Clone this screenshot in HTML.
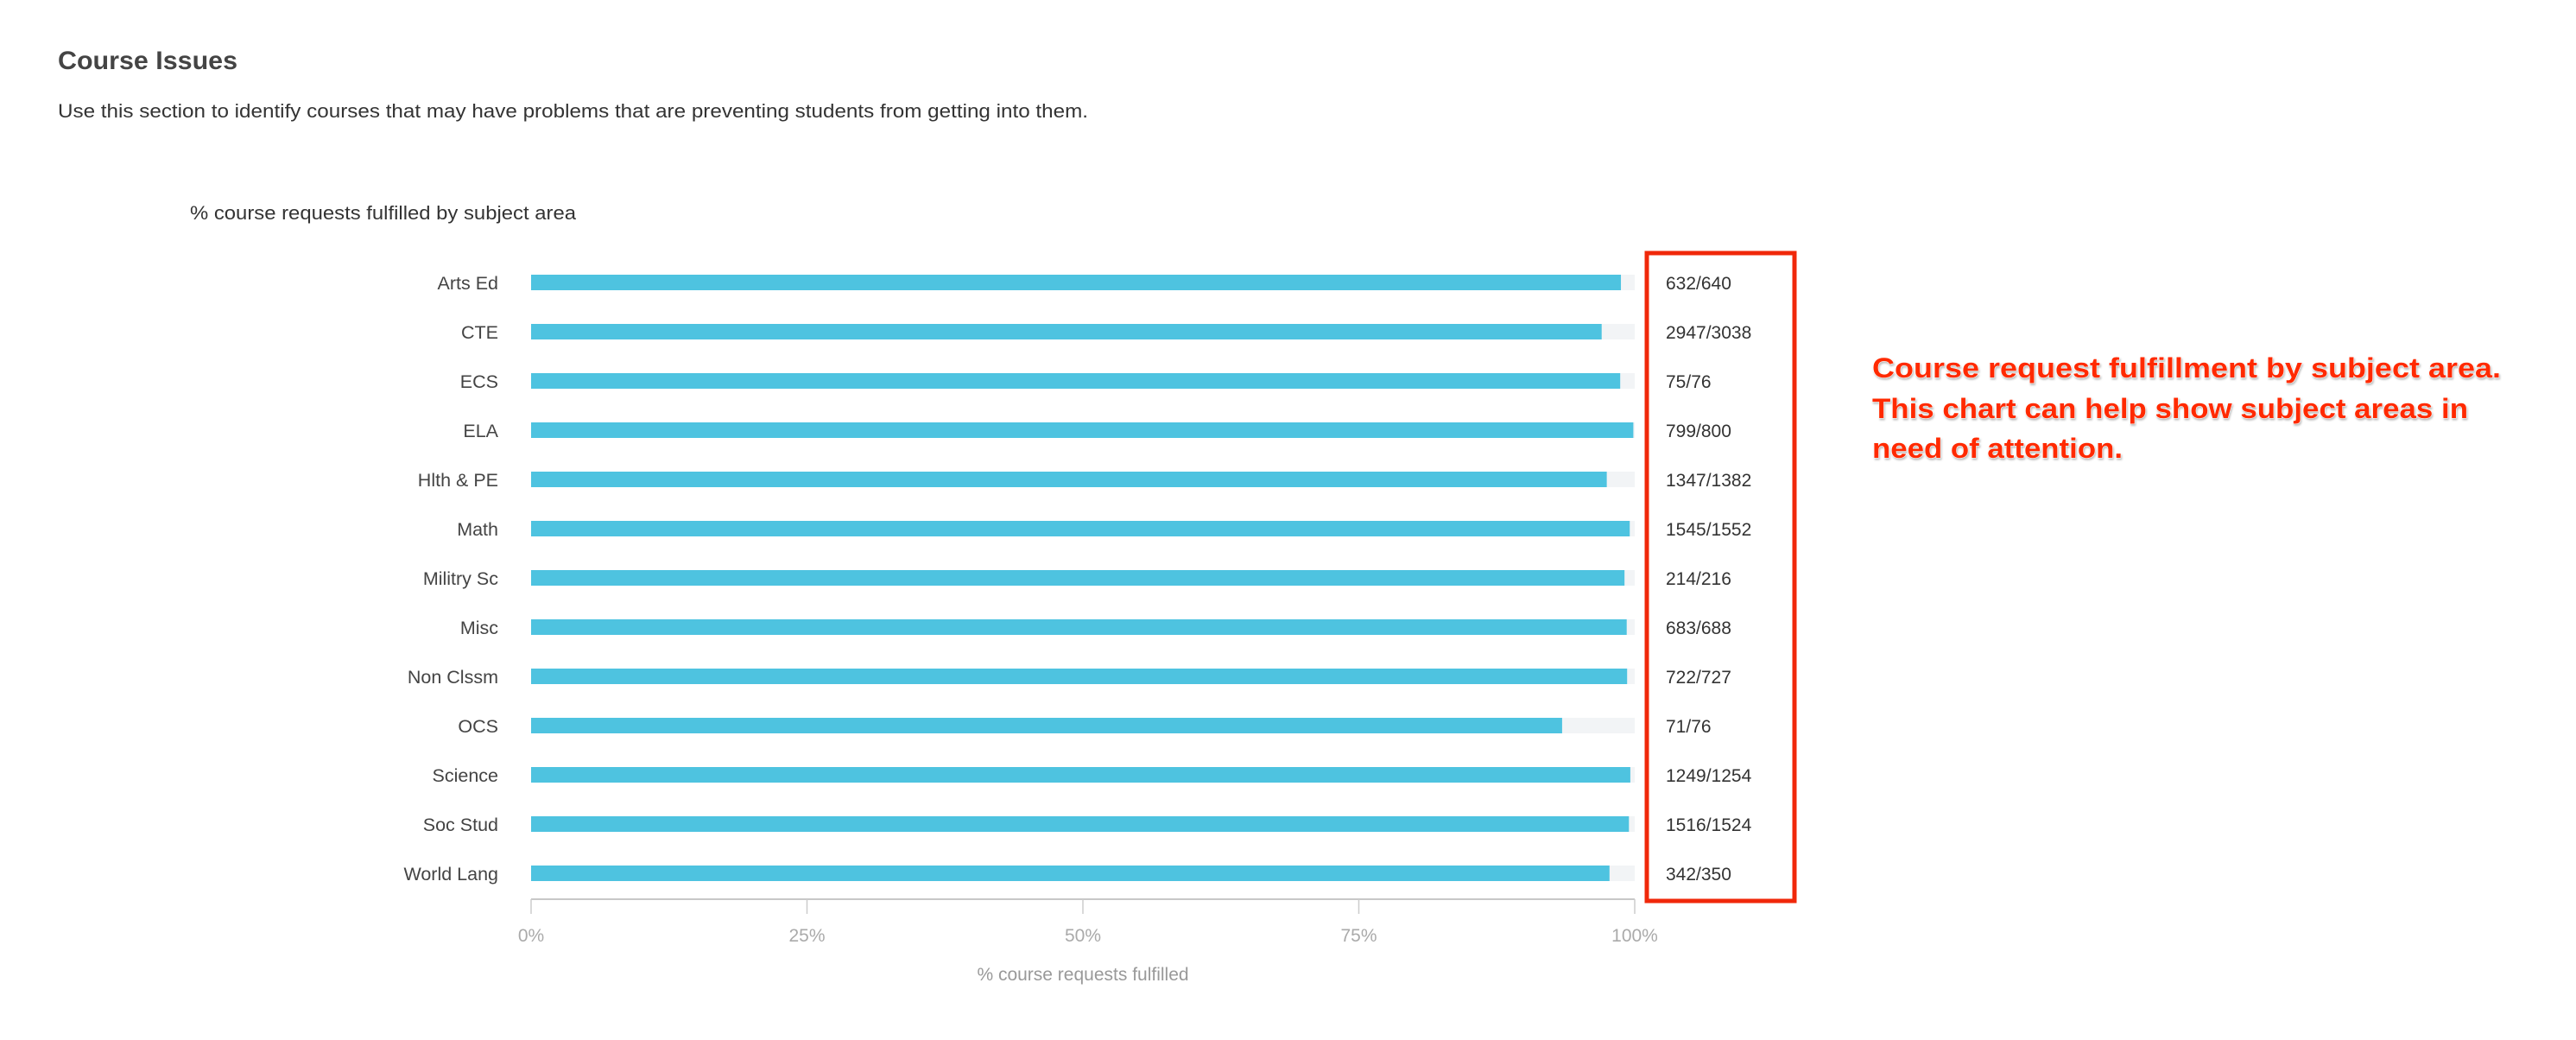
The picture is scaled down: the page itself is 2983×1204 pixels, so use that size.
<!DOCTYPE html>
<html><head><meta charset="utf-8"><style>
html,body{margin:0;padding:0;background:#fff;width:2983px;height:1204px;overflow:hidden;font-family:"Liberation Sans",sans-serif}
</style></head><body>
<svg id="chart" width="2983" height="1204" xmlns="http://www.w3.org/2000/svg" font-family="Liberation Sans, sans-serif">
<text x="67" y="80" font-size="30" font-weight="bold" fill="#444" textLength="208" lengthAdjust="spacingAndGlyphs">Course Issues</text>
<text x="67" y="136" font-size="22" fill="#333" textLength="1193" lengthAdjust="spacingAndGlyphs">Use this section to identify courses that may have problems that are preventing students from getting into them.</text>
<text x="220" y="254" font-size="22" fill="#333" textLength="447" lengthAdjust="spacingAndGlyphs">% course requests fulfilled by subject area</text>
<g id="bars"></g>
<line x1="615" y1="1041" x2="1893" y2="1041" stroke="#c8c8c8" stroke-width="2"/>
<g id="ticks"></g>
<text x="1254" y="1135" font-size="21" fill="#999" text-anchor="middle">% course requests fulfilled</text>
<rect x="1907" y="293" width="171" height="750" fill="none" stroke="#f0280a" stroke-width="5"/>
<g font-size="32" font-weight="bold" fill="#ff2a00" stroke="#fff" stroke-width="1" paint-order="stroke" style="filter:drop-shadow(1px 2px 1px rgba(0,0,0,0.25))">
<text x="2168" y="437" textLength="728" lengthAdjust="spacingAndGlyphs">Course request fulfillment by subject area.</text>
<text x="2168" y="484" textLength="690" lengthAdjust="spacingAndGlyphs">This chart can help show subject areas in</text>
<text x="2168" y="530" textLength="290" lengthAdjust="spacingAndGlyphs">need of attention.</text>
</g>
</svg>
<script>
const categories=["Arts Ed","CTE","ECS","ELA","Hlth & PE","Math","Militry Sc","Misc","Non Clssm","OCS","Science","Soc Stud","World Lang"];
const fulfilled=[632,2947,75,799,1347,1545,214,683,722,71,1249,1516,342];
const requested=[640,3038,76,800,1382,1552,216,688,727,76,1254,1524,350];
const tickValues=[0,0.25,0.5,0.75,1];
const tickLabels=["0%","25%","50%","75%","100%"];
const NS="http://www.w3.org/2000/svg";
const x0=615,x1=1893,yTop=327,rowStep=57;
const xScale=v=>x0+(x1-x0)*v;
const yScale=i=>yTop+i*rowStep;
function mk(tag,attrs,parent,text){const e=document.createElementNS(NS,tag);for(const k in attrs)e.setAttribute(k,attrs[k]);if(text!==undefined)e.textContent=text;parent.appendChild(e);return e;}
const bars=document.getElementById('bars');
categories.forEach((c,i)=>{
  const y=yScale(i);
  const lab=mk('text',{x:577,y:y+8,'font-size':21.5,fill:'#444','text-anchor':'end'},bars,c);
  
  
  const tr=mk('rect',{x:x0,y:y-9,width:x1-x0,height:18,fill:'#f2f4f6'},bars);
  
  
  const r=fulfilled[i]/requested[i];
  const b=mk('rect',{x:x0,y:y-9,width:xScale(r)-x0,height:18,fill:'#4ec3e0'},bars);
  
  
  const v=mk('text',{x:1929,y:y+8,'font-size':21,fill:'#333'},bars,fulfilled[i]+'/'+requested[i]);
  
  
});
const ticks=document.getElementById('ticks');
tickValues.forEach((t,i)=>{
  const x=xScale(t);
  const l=mk('line',{x1:x,y1:1041,x2:x,y2:1058,stroke:'#ccc','stroke-width':1.5},ticks);
  
  
  const tx=mk('text',{x:x,y:1090,'font-size':21,fill:'#aaa','text-anchor':'middle'},ticks,tickLabels[i]);
  
  
});
</script>
</body></html>
